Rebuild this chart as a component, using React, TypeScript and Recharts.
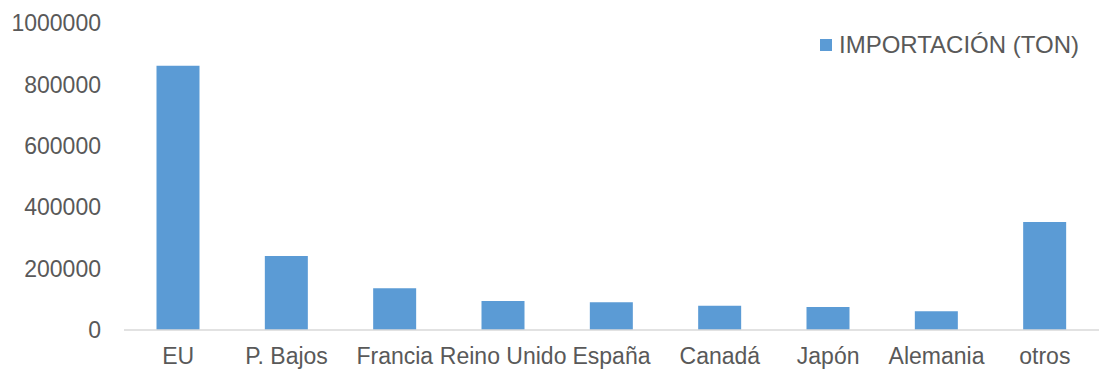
import { Bar, BarChart, XAxis, YAxis } from "recharts";

const countries = ["EU", "P. Bajos", "Francia", "Reino Unido", "España", "Canadá", "Japón", "Alemania", "otros"];
const imports = [861000, 241000, 136000, 94500, 90000, 79000, 75000, 61000, 352000];
const yTicks = [0, 200000, 400000, 600000, 800000, 1000000];
const seriesName = "IMPORTACIÓN (TON)";

const BLUE = "#5B9BD5";
const TEXT = "#595959";
const FONT = "'Liberation Sans', Arial, sans-serif";

const data = countries.map((name, i) => ({ name, value: imports[i] }));

// legend drawn as an overlay so it doesn't eat into the plot area
function ChartLegend() {
  return (
    <div
      style={{
        position: "absolute",
        top: 31,
        left: 820,
        display: "flex",
        alignItems: "center",
        fontFamily: FONT,
        fontSize: 24,
        lineHeight: "28px",
        color: TEXT,
        whiteSpace: "nowrap",
      }}
    >
      <span style={{ width: 12, height: 12, background: BLUE, display: "inline-block", marginRight: 7 }} />
      <span>{seriesName}</span>
    </div>
  );
}

export default function App() {
  return (
    <div style={{ position: "absolute", left: 0, top: 0, width: 1102, height: 369, background: "#fff" }}>
      <BarChart
        width={1102}
        height={369}
        data={data}
        margin={{ top: 23, right: 3, left: 0, bottom: 0 }}
        barCategoryGap="30%"
      >
        <XAxis
          dataKey="name"
          height={39}
          axisLine={{ stroke: "#D9D9D9", strokeWidth: 1.5 }}
          tickLine={false}
          tickSize={0}
          tickMargin={18}
          interval={0}
          tick={{ fill: TEXT, fontSize: 23, fontFamily: FONT }}
        />
        <YAxis
          width={124}
          domain={[0, 1000000]}
          ticks={yTicks}
          axisLine={false}
          tickLine={false}
          tickSize={0}
          tickMargin={23}
          interval={0}
          tick={{ fill: TEXT, fontSize: 23, fontFamily: FONT }}
        />
        <Bar dataKey="value" name={seriesName} fill={BLUE} isAnimationActive={false} />
      </BarChart>
      <ChartLegend />
    </div>
  );
}
